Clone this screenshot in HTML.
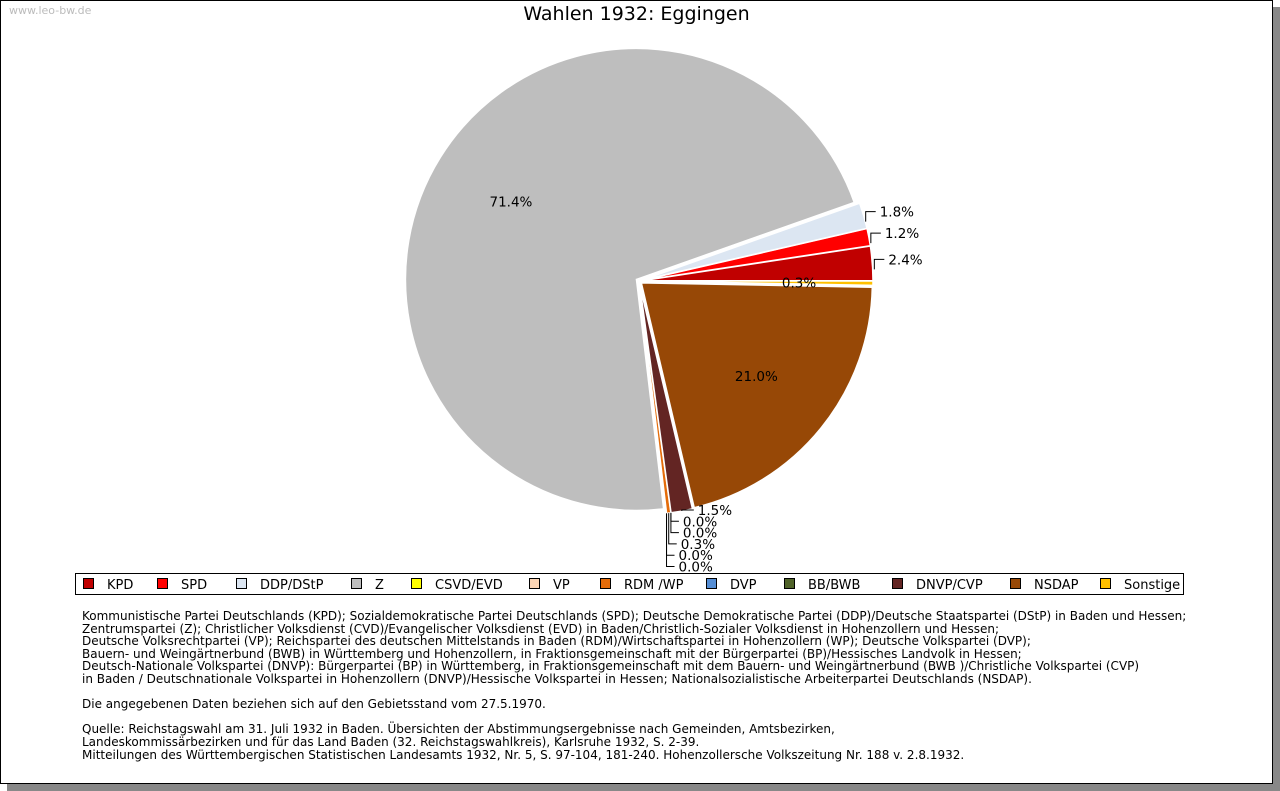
<!DOCTYPE html>
<html><head><meta charset="utf-8"><style>
body{margin:0;background:#fff;width:1280px;height:791px;overflow:hidden;font-family:"DejaVu Sans","Liberation Sans",sans-serif}
#frame{position:absolute;left:0;top:0;width:1271px;height:782px;border:1px solid #000;background:#fff;box-shadow:7px 7px 0 #888}
#wm{position:absolute;left:9px;top:4px;font-size:11px;color:#bbb}
#title{position:absolute;left:0;width:1273px;top:3px;text-align:center;font-size:19px;color:#000}
#desc{position:absolute;left:82px;top:610px;font-size:12px;line-height:12.6px;color:#000;white-space:pre}
</style></head><body>
<div id="frame"></div>
<div id="wm">www.leo-bw.de</div>
<div id="title">Wahlen 1932: Eggingen</div>
<svg id="chart" width="1280" height="791" style="position:absolute;left:0;top:0"></svg>
<div id="desc">Kommunistische Partei Deutschlands (KPD); Sozialdemokratische Partei Deutschlands (SPD); Deutsche Demokratische Partei (DDP)/Deutsche Staatspartei (DStP) in Baden und Hessen;
Zentrumspartei (Z); Christlicher Volksdienst (CVD)/Evangelischer Volksdienst (EVD) in Baden/Christlich-Sozialer Volksdienst in Hohenzollern und Hessen;
Deutsche Volksrechtpartei (VP); Reichspartei des deutschen Mittelstands in Baden (RDM)/Wirtschaftspartei in Hohenzollern (WP); Deutsche Volkspartei (DVP);
Bauern- und Weingärtnerbund (BWB) in Württemberg und Hohenzollern, in Fraktionsgemeinschaft mit der Bürgerpartei (BP)/Hessisches Landvolk in Hessen;
Deutsch-Nationale Volkspartei (DNVP): Bürgerpartei (BP) in Württemberg, in Fraktionsgemeinschaft mit dem Bauern- und Weingärtnerbund (BWB )/Christliche Volkspartei (CVP)
in Baden / Deutschnationale Volkspartei in Hohenzollern (DNVP)/Hessische Volkspartei in Hessen; Nationalsozialistische Arbeiterpartei Deutschlands (NSDAP).

Die angegebenen Daten beziehen sich auf den Gebietsstand vom 27.5.1970.

Quelle: Reichstagswahl am 31. Juli 1932 in Baden. Übersichten der Abstimmungsergebnisse nach Gemeinden, Amtsbezirken,
Landeskommissärbezirken und für das Land Baden (32. Reichstagswahlkreis), Karlsruhe 1932, S. 2-39.
Mitteilungen des Württembergischen Statistischen Landesamts 1932, Nr. 5, S. 97-104, 181-240. Hohenzollersche Volkszeitung Nr. 188 v. 2.8.1932.</div>
<script>
const parties=["KPD","SPD","DDP/DStP","Z","CSVD/EVD","VP","RDM /WP","DVP","BB/BWB","DNVP/CVP","NSDAP","Sonstige"];
const shares=[2.4,1.2,1.8,71.4,0.0,0.0,0.3,0.0,0.0,1.5,21.0,0.3];
const colors=["#c00000","#ff0000","#dce6f2","#bebebe","#ffff00","#fcd5b5","#e46c0a","#558ed5","#4f6228","#632523","#974806","#ffc000"];
const legendX=[82,156,235,350,410,528,599,705,783,891,1009,1099];
const NS="http://www.w3.org/2000/svg";
const svg=document.getElementById('chart');
function mk(t,a){const e=document.createElementNS(NS,t);for(const k in a)e.setAttribute(k,a[k]);svg.appendChild(e);return e;}
const cx=639,cy=281,R=231,EX=3;
const total=shares.reduce((a,b)=>a+b,0);
let acc=0;
const bottomSmall=[];
shares.forEach((v,i)=>{
  const a0=acc/total*2*Math.PI, a1=(acc+v)/total*2*Math.PI; acc+=v;
  const am=(a0+a1)/2;
  const ox=cx+EX*Math.cos(am), oy=cy-EX*Math.sin(am);
  if(v>0){
    const large=(a1-a0)>Math.PI?1:0;
    const p=mk('path',{d:`M${ox},${oy} L${ox+R*Math.cos(a0)},${oy-R*Math.sin(a0)} A${R},${R} 0 ${large} 0 ${ox+R*Math.cos(a1)},${oy-R*Math.sin(a1)} Z`,fill:colors[i],stroke:'#fff','stroke-width':1.5});
    
    
  }
  const label=v.toFixed(1)+'%';
  let t;
  if(v>=5){
    t=mk('text',{x:ox+0.64*R*Math.cos(am),y:oy-0.64*R*Math.sin(am)+5,'font-size':13.5,'text-anchor':'middle'});
  } else if(Math.sin(am)>0.02){
    const ex=ox+R*Math.cos(am), ey=oy-R*Math.sin(am);
    const ly=ey-4;
    mk('path',{d:`M${ex+2},${ey+6} L${ex+2},${ly} L${ex+12},${ly}`,fill:'none',stroke:'#000','stroke-width':1});
    t=mk('text',{x:ex+16,y:ly+5,'font-size':13.5});
  } else if(Math.sin(am)>-0.5){
    t=mk('text',{x:ox+0.68*R*Math.cos(am),y:oy-0.68*R*Math.sin(am)+5,'font-size':13.5,'text-anchor':'middle'});
  } else {
    bottomSmall.push({i,label,ex:ox+R*Math.cos(am),ey:oy-R*Math.sin(am)});
  }
  if(t){t.textContent=label;}
});
bottomSmall.sort((a,b)=>b.ex-a.ex);
bottomSmall.forEach((s,k)=>{
  const ly=510+k*11.3;
  const vx=s.ex;
  mk('path',{d:`M${vx},${s.ey} L${vx},${ly} L${vx+(k==0?12:8)},${ly}`,fill:'none',stroke:'#000','stroke-width':1});
  const t=mk('text',{x:vx+(k==0?16:12),y:ly+5,'font-size':13.5});
  t.textContent=s.label;
  
  
});
const lb=mk('rect',{x:75.5,y:573.5,width:1108,height:21,fill:'#fff',stroke:'#000','stroke-width':1});


parties.forEach((p,i)=>{
  const x=legendX[i];
  const r=mk('rect',{x:x+1.5,y:578.5,width:10,height:10,fill:colors[i],stroke:'#000','stroke-width':1});
  
  
  const t=mk('text',{x:x+25,y:589,'font-size':13});
  t.textContent=p;
  
  
});
</script>
</body></html>
